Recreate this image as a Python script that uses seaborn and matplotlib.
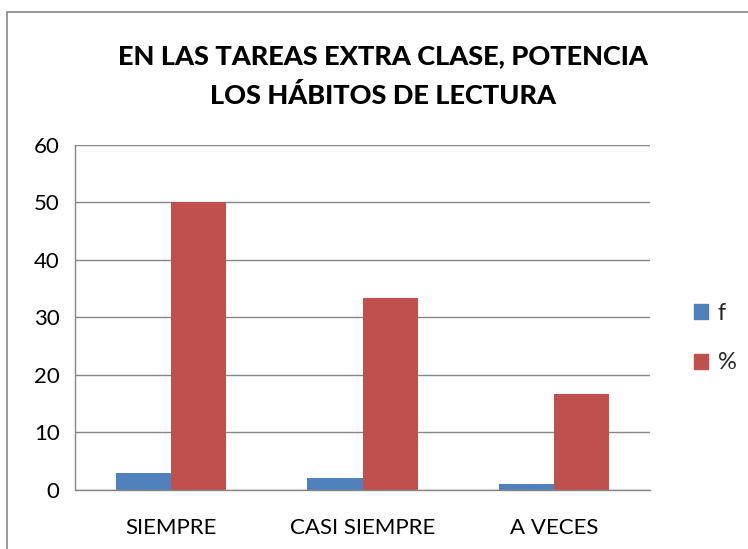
import matplotlib
matplotlib.use("Agg")
import matplotlib.pyplot as plt
import matplotlib.patches as mpatches
import pandas as pd
import seaborn as sns

categories = ["SIEMPRE", "CASI SIEMPRE", "A VECES"]
f_values = [3, 2, 1]
pct_values = [50, 33.33, 16.67]
series = ["f", "%"]
colors = {"f": "#4F81BD", "%": "#C0504D"}

df = pd.DataFrame({
    "categoria": categories * 2,
    "serie": ["f"] * 3 + ["%"] * 3,
    "valor": f_values + pct_values,
})

sns.set_style("white")
plt.rcParams["font.family"] = ["Lato", "DejaVu Sans"]

fig = plt.figure(figsize=(7.48, 5.49), dpi=100)
ax = fig.add_axes([0.1003, 0.1075, 0.7687, 0.6284])

sns.barplot(data=df, x="categoria", y="valor", hue="serie",
            order=categories, hue_order=series, palette=colors,
            width=0.575, saturation=1, linewidth=0, ax=ax, legend=True)

ax.set_ylim(0, 60)
ax.set_yticks(range(0, 61, 10))
ax.yaxis.grid(True, color="#868686", linewidth=1)
ax.set_axisbelow(True)
ax.set_xlabel("")
ax.set_ylabel("")
for side in ["top", "right"]:
    ax.spines[side].set_visible(False)
for side in ["left", "bottom"]:
    ax.spines[side].set_color("#868686")
    ax.spines[side].set_linewidth(1)
ax.tick_params(axis="y", labelsize=16, length=5, color="#868686", pad=6,
               labelcolor="black")
ax.tick_params(axis="x", labelsize=16, length=0, pad=20, labelcolor="black")

handles = [mpatches.Patch(color=colors[s], label=s) for s in series]
ax.legend(handles=handles, loc="center left", bbox_to_anchor=(1.04, 0.44),
          frameon=False, fontsize=17, handlelength=0.6, handleheight=0.6,
          labelspacing=1.2, handletextpad=0.4)

fig.text(0.512, 0.861, "EN LAS TAREAS EXTRA CLASE, POTENCIA\nLOS HÁBITOS DE LECTURA",
         ha="center", va="center", fontsize=19.5, fontweight="black",
         linespacing=1.7, color="black")

border = mpatches.Rectangle((7 / 748, -0.05), 1.0, 1 - 12 / 549 + 0.05,
                            transform=fig.transFigure, fill=False,
                            edgecolor="#868686", linewidth=1.2)
fig.patches.append(border)

fig.savefig("out.png", dpi=100)
